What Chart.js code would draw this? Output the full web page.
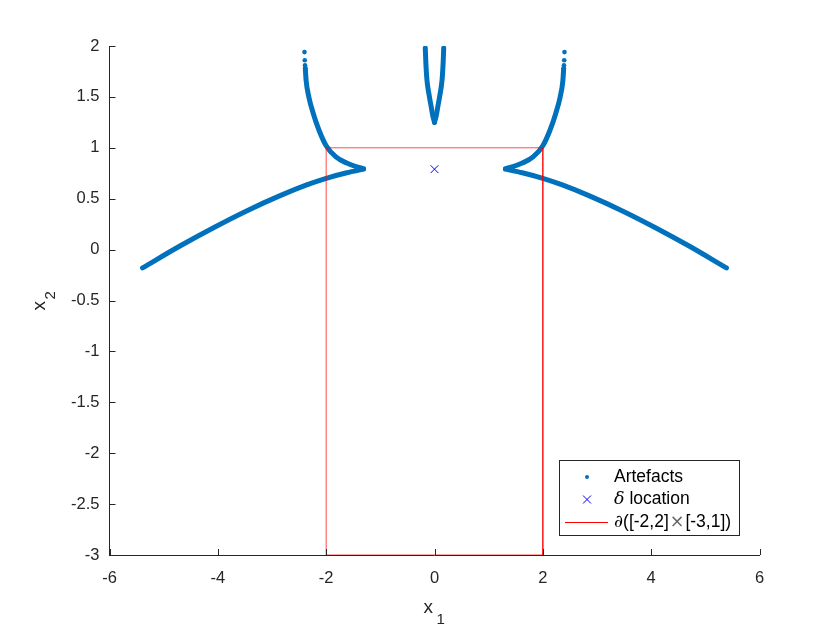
<!DOCTYPE html>
<html>
<head>
<meta charset="utf-8">
<script src="https://cdn.jsdelivr.net/npm/chart.js@4"></script>
<style>
  html, body { margin: 0; padding: 0; background: #fff; }
  #wrap { width: 840px; height: 630px; }
</style>
</head>
<body>
<div id="wrap"><canvas id="chart" width="840" height="630"></canvas></div>
<script>
// axis ranges
const xMin = -6, xMax = 6, xStep = 2;
const yMin = -3, yMax = 2, yStep = 0.5;

// artefact branches, [x1, x2]
const leftLower = [[-5.39, -0.18], [-4.70, 0.035], [-4.08, 0.215], [-3.47, 0.38], [-2.85, 0.53], [-2.36, 0.635], [-2.0, 0.70], [-1.62, 0.755], [-1.31, 0.79]];
const rightLower = [[1.31, 0.79], [1.62, 0.755], [2.0, 0.70], [2.36, 0.635], [2.85, 0.53], [3.47, 0.38], [4.08, 0.215], [4.70, 0.035], [5.39, -0.18]];
const leftUpper = [[-2.385, 1.78], [-2.37, 1.66], [-2.32, 1.50], [-2.24, 1.34], [-2.13, 1.17], [-2.0, 1.02], [-1.82, 0.91], [-1.62, 0.85], [-1.45, 0.815], [-1.31, 0.795]];
const rightUpper = [[1.31, 0.795], [1.45, 0.815], [1.62, 0.85], [1.82, 0.91], [2.0, 1.02], [2.13, 1.17], [2.24, 1.34], [2.32, 1.50], [2.37, 1.66], [2.385, 1.78]];
const vLeft = [[-0.17, 1.98], [-0.16, 1.84], [-0.14, 1.67], [-0.10, 1.52], [-0.06, 1.40], [-0.03, 1.31], [0, 1.25]];
const vRight = [[0, 1.25], [0.03, 1.31], [0.06, 1.40], [0.10, 1.52], [0.14, 1.67], [0.16, 1.84], [0.17, 1.98]];
const sparseDots = [[-2.40, 1.94], [-2.395, 1.86], [-2.39, 1.81], [-2.385, 1.78], [2.40, 1.94], [2.395, 1.86], [2.39, 1.81], [2.385, 1.78]];

// delta location and box boundary
const deltaPos = [[0, 0.79]];
const boxX = [-2, -2, 2, 2, -2];
const boxY = [-3, 1, 1, -3, -3];

const legendLabels = ["Artefacts", "location", "([-2,2]", "[-3,1])"];

const BLUE = "#0072BD";
const AXIS = "#262626";
const FONT = "'Liberation Sans', Arial, sans-serif";

const pts = (arr) => arr.map((p) => ({ x: p[0], y: p[1] }));

function branch(arr) {
  return {
    data: pts(arr),
    showLine: true,
    borderColor: BLUE,
    borderWidth: 5,
    borderCapStyle: "round",
    borderJoinStyle: "round",
    pointRadius: 0,
    cubicInterpolationMode: "monotone",
    order: 2,
  };
}

const datasets = [
  branch(leftLower),
  branch(rightLower),
  branch(leftUpper),
  branch(rightUpper),
  branch(vLeft),
  branch(vRight),
  {
    data: pts(sparseDots),
    showLine: false,
    pointRadius: 2.3,
    pointBackgroundColor: BLUE,
    pointBorderWidth: 0,
    order: 2,
  },
  {
    data: pts(deltaPos),
    showLine: false,
    pointStyle: "crossRot",
    pointRadius: 5.5,
    pointBorderColor: "#0000ff",
    pointBorderWidth: 1,
    order: 1,
  },
  {
    data: boxX.map((x, i) => ({ x: x, y: boxY[i] })),
    showLine: true,
    borderColor: "rgba(255,0,0,0.7)",
    borderWidth: 1,
    pointRadius: 0,
    tension: 0,
    order: 0,
  },
];

// inward ticks, axis titles with subscripts, legend box
const extras = {
  id: "extras",
  afterDraw(chart) {
    const ctx = chart.ctx;
    const xs = chart.scales.x;
    const ys = chart.scales.y;
    const area = chart.chartArea;
    ctx.save();
    ctx.strokeStyle = AXIS;
    ctx.lineWidth = 1;
    ctx.beginPath();
    xs.ticks.forEach((t) => {
      const px = Math.round(xs.getPixelForValue(t.value)) + 0.5;
      ctx.moveTo(px, area.bottom);
      ctx.lineTo(px, area.bottom - 6);
    });
    ys.ticks.forEach((t) => {
      const py = Math.round(ys.getPixelForValue(t.value)) + 0.5;
      ctx.moveTo(area.left, py);
      ctx.lineTo(area.left + 6, py);
    });
    ctx.stroke();

    // x label
    ctx.fillStyle = AXIS;
    ctx.textBaseline = "alphabetic";
    ctx.textAlign = "left";
    ctx.font = "19px " + FONT;
    const cx = (area.left + area.right) / 2;
    ctx.fillText("x", cx - 11, 613);
    ctx.font = "15px " + FONT;
    ctx.fillText("1", cx + 2, 624);

    // y label
    ctx.save();
    ctx.translate(45, (area.top + area.bottom) / 2 + 10);
    ctx.rotate(-Math.PI / 2);
    ctx.font = "19px " + FONT;
    ctx.fillText("x", 0, 0);
    ctx.font = "15px " + FONT;
    ctx.fillText("2", 11, 10);
    ctx.restore();

    // legend
    const lx = 559.5, ly = 460.5, lw = 180, lh = 75;
    ctx.fillStyle = "#fff";
    ctx.fillRect(lx, ly, lw, lh);
    ctx.strokeStyle = AXIS;
    ctx.strokeRect(lx, ly, lw, lh);

    const mx = 587, tx = 614;
    const rows = [477, 499.5, 522.5];
    ctx.fillStyle = BLUE;
    ctx.beginPath();
    ctx.arc(mx, rows[0], 2, 0, Math.PI * 2);
    ctx.fill();

    ctx.strokeStyle = "#0000ff";
    ctx.beginPath();
    ctx.moveTo(mx - 4, rows[1] - 4);
    ctx.lineTo(mx + 4, rows[1] + 4);
    ctx.moveTo(mx + 4, rows[1] - 4);
    ctx.lineTo(mx - 4, rows[1] + 4);
    ctx.stroke();

    ctx.strokeStyle = "#ff0000";
    ctx.beginPath();
    ctx.moveTo(565, rows[2]);
    ctx.lineTo(608, rows[2]);
    ctx.stroke();

    const fs = 17.5;
    ctx.fillStyle = "#000";
    ctx.textBaseline = "middle";
    ctx.font = fs + "px " + FONT;
    ctx.fillText(legendLabels[0], tx, rows[0]);

    ctx.font = "italic " + fs + "px 'DejaVu Serif', serif";
    ctx.fillText("\u03b4", tx, rows[1]);
    let w = ctx.measureText("\u03b4").width;
    ctx.font = fs + "px " + FONT;
    w += ctx.measureText(" ").width;
    ctx.fillText(legendLabels[1], tx + w, rows[1]);

    let x = tx;
    ctx.font = "italic " + fs + "px 'DejaVu Serif', serif";
    ctx.fillText("\u2202", x, rows[2]);
    x += ctx.measureText("\u2202").width;
    ctx.font = fs + "px " + FONT;
    ctx.fillText(legendLabels[2], x, rows[2]);
    x += ctx.measureText(legendLabels[2]).width + 1;
    ctx.font = fs + "px 'DejaVu Sans', sans-serif";
    ctx.fillStyle = "#666";
    ctx.fillText("\u00d7", x, rows[2]);
    x += ctx.measureText("\u00d7").width + 1;
    ctx.fillStyle = "#000";
    ctx.font = fs + "px " + FONT;
    ctx.fillText(legendLabels[3], x, rows[2]);
    ctx.restore();
  },
};

const fmt = (v) => String(Math.round(v * 10) / 10);

new Chart(document.getElementById("chart"), {
  type: "scatter",
  data: { datasets: datasets },
  options: {
    responsive: false,
    animation: false,
    events: [],
    layout: { padding: { left: 0, top: 46, right: 80.5, bottom: 0 } },
    plugins: { legend: { display: false }, tooltip: { enabled: false } },
    scales: {
      x: {
        type: "linear",
        min: xMin,
        max: xMax,
        ticks: { stepSize: xStep, color: AXIS, font: { family: FONT, size: 16.5 }, padding: 14, callback: fmt },
        grid: { display: true, drawOnChartArea: false, drawTicks: false },
        border: { color: AXIS, width: 1 },
        afterFit(scale) { scale.height = 75; },
      },
      y: {
        type: "linear",
        min: yMin,
        max: yMax,
        ticks: { stepSize: yStep, color: AXIS, font: { family: FONT, size: 16.5 }, padding: 10, callback: fmt },
        grid: { display: true, drawOnChartArea: false, drawTicks: false },
        border: { color: AXIS, width: 1 },
        afterFit(scale) { scale.width = 109.5; },
      },
    },
  },
  plugins: [extras],
});
</script>
</body>
</html>
